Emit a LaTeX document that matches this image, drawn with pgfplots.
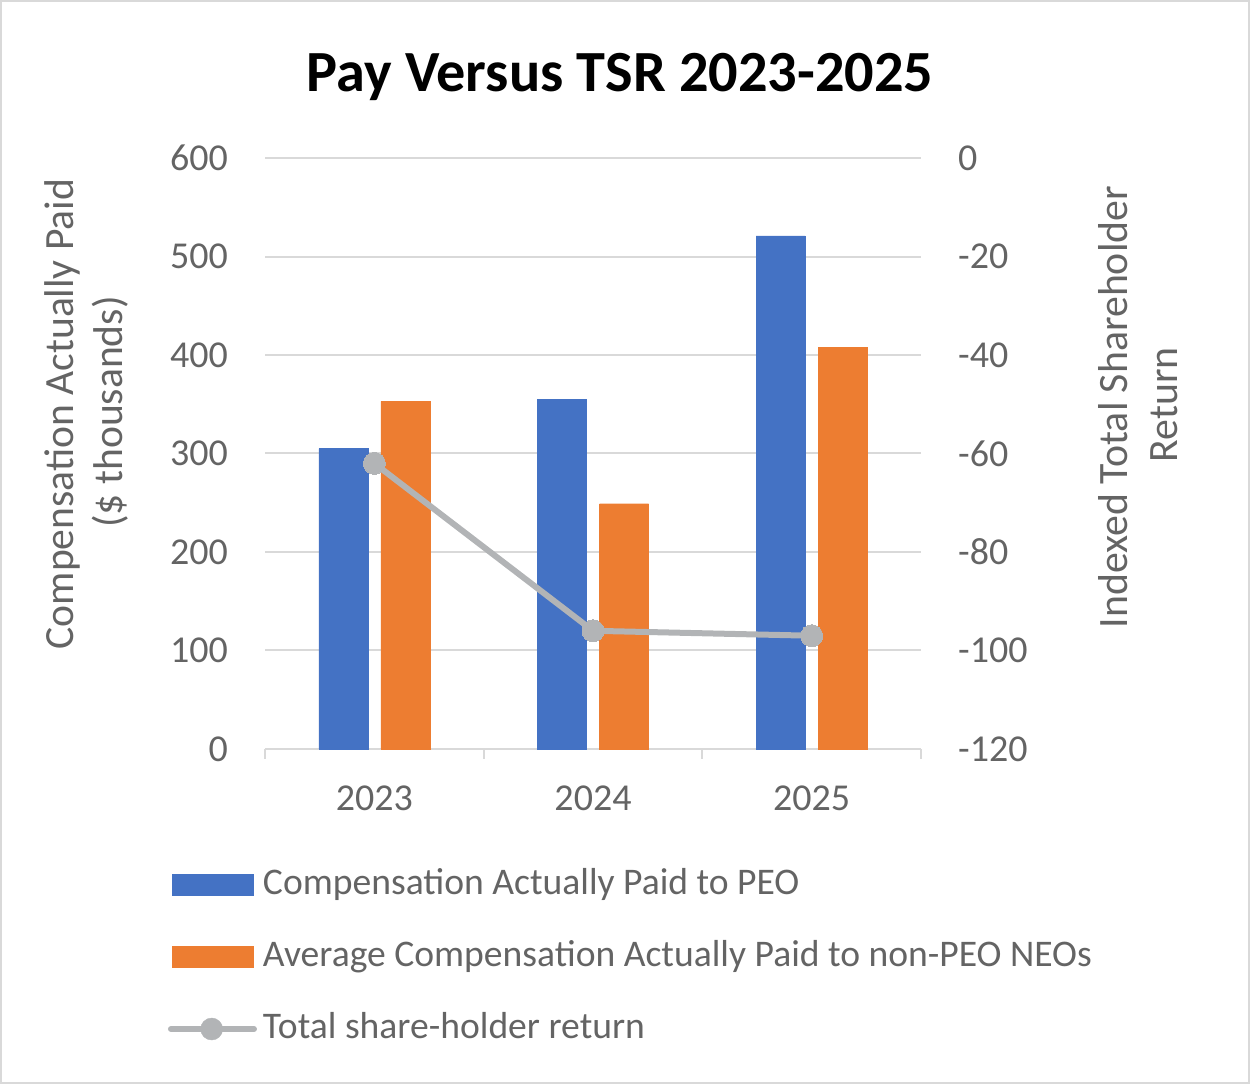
\documentclass[border=0pt]{standalone}
\usepackage{pgfplots}
\pgfplotsset{compat=1.18}
\usepackage{fontspec}
\setmainfont{Carlito}
\definecolor{cblue}{HTML}{4472C4}
\definecolor{corange}{HTML}{ED7D31}
\definecolor{cline}{HTML}{B2B4B6}
\definecolor{gridgray}{HTML}{D9D9D9}
\definecolor{txtgray}{HTML}{646464}
\begin{document}
\begin{tikzpicture}[x=1pt,y=1pt]
\draw[gridgray, line width=2pt] (1,1) rectangle (1249,1083);
% title
\node[anchor=base, inner sep=0pt, font=\bfseries\fontsize{58.3}{70}\selectfont] at (620,{1084-92}) {Pay Versus TSR 2023-2025};
% axis titles
\node[rotate=90, anchor=base, inner sep=0pt, text=txtgray, font=\fontsize{41.6}{50}\selectfont] at (73,{1084-414}) {Compensation Actually Paid};
\node[rotate=90, anchor=base, inner sep=0pt, text=txtgray, font=\fontsize{41.6}{50}\selectfont] at (122,{1084-412}) {(\$ thousands)};
\node[rotate=90, anchor=base, inner sep=0pt, text=txtgray, font=\fontsize{41.8}{50}\selectfont] at (1127,{1084-407}) {Indexed Total Shareholder};
\node[rotate=90, anchor=base, inner sep=0pt, text=txtgray, font=\fontsize{41.8}{50}\selectfont] at (1177,{1084-405}) {Return};
\begin{axis}[
  at={(265pt,335pt)}, anchor=south west,
  scale only axis, width=656pt, height=591pt,
  xmin=-0.5, xmax=2.5, ymin=0, ymax=600,
  ytick={0,100,200,300,400,500,600},
  yticklabels={0,100,200,300,400,500,600},
  xtick={0,1,2}, xticklabels={2023,2024,2025},
  minor xtick={-0.5,0.5,1.5,2.5},
  axis x line*=bottom, axis y line*=left,
  y axis line style={draw=none},
  x axis line style={draw=gridgray, line width=2pt, -},
  ymajorgrids, major grid style={draw=gridgray, line width=2pt},
  major tick length=0pt, minor tick length=10pt, tick align=outside,
  minor x tick style={draw=gridgray, line width=2pt},
  ytick style={draw=none},
  ticklabel style={text=txtgray, font=\fontsize{38}{46}\selectfont},
  yticklabel style={anchor=east, inner sep=0pt, xshift=-37pt},
  xticklabel style={anchor=north, inner sep=0pt, yshift=-37pt},
  legend style={at={(-0.1479,-0.2014)}, anchor=north west, draw=none, fill=none,
    inner sep=0pt, outer sep=0pt,
    font=\fontsize{37.6}{44}\selectfont, text=txtgray,
    nodes={inner sep=0pt, text height=26pt, text depth=8pt},
    row sep=38pt,
    /tikz/every odd column/.append style={column sep=6pt}},
  legend cell align=left,
  clip=false,
]
\addplot[ybar, bar width=49pt, bar shift=-31pt, fill=cblue, draw=cblue,
  legend image code/.code={\fill[cblue] (4pt,-10.5pt) rectangle (85pt,10.5pt);}]
  coordinates {(0,305) (1,355) (2,521)};
\addlegendentry{Compensation Actually Paid to PEO}
\addplot[ybar, bar width=49pt, bar shift=31pt, fill=corange, draw=corange,
  legend image code/.code={\fill[corange] (4pt,-10.5pt) rectangle (85pt,10.5pt);}]
  coordinates {(0,353) (1,249) (2,408)};
\addlegendentry{Average Compensation Actually Paid to non-PEO NEOs}
\addlegendimage{legend image code/.code={\draw[cline, line width=6pt, line cap=round] (3pt,0pt) -- (86pt,0pt); \fill[cline] (43.7pt,0pt) circle (11pt);}}
\addlegendentry{Total share-holder return}
\end{axis}
\begin{axis}[
  at={(265pt,335pt)}, anchor=south west,
  scale only axis, width=656pt, height=591pt,
  xmin=-0.5, xmax=2.5, ymin=-120, ymax=0,
  ytick={-120,-100,-80,-60,-40,-20,0},
  yticklabels={-120,-100,-80,-60,-40,-20,0},
  axis x line=none, axis y line*=right,
  y axis line style={draw=none},
  major tick length=0pt, ytick style={draw=none},
  ticklabel style={text=txtgray, font=\fontsize{38}{46}\selectfont},
  yticklabel style={anchor=west, inner sep=0pt, xshift=37pt},
  clip=false,
]
\addplot[cline, line width=6pt, mark=*, mark size=11pt,
  mark options={fill=cline, draw=cline, line width=0pt}]
  coordinates {(0,-62) (1,-96) (2,-97)};
\end{axis}
\pgfresetboundingbox
\path[use as bounding box] (0,0) rectangle (1250,1084);
\end{tikzpicture}
\end{document}
